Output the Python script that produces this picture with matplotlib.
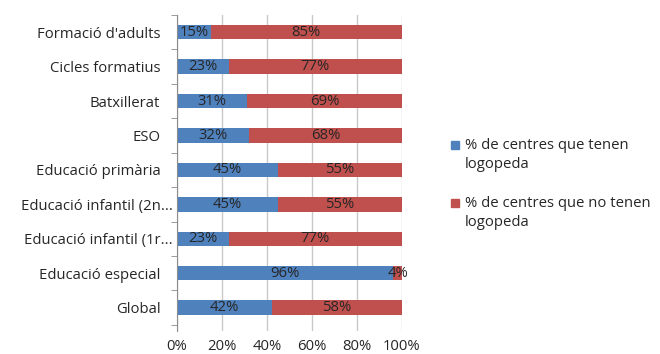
import matplotlib.pyplot as plt
from matplotlib.patches import Rectangle
import numpy as np

categories = [
    "Global",
    "Educació especial",
    "Educació infantil (1r...",
    "Educació infantil (2n...",
    "Educació primària",
    "ESO",
    "Batxillerat",
    "Cicles formatius",
    "Formació d'adults",
]
with_speech = [42, 96, 23, 45, 45, 32, 31, 23, 15]
without_speech = [58, 4, 77, 55, 55, 68, 69, 77, 85]
series_names = [
    ["% de centres que tenen", "logopeda"],
    ["% de centres que no tenen", "logopeda"],
]
xticks = [0, 20, 40, 60, 80, 100]

plt.rcParams["font.family"] = ["Open Sans", "DejaVu Sans"]
FS = 10.7
TXT = "#262626"

W, H = 660, 354
fig = plt.figure(figsize=(W / 100, H / 100), dpi=100)
ax = fig.add_axes([177 / W, 1 - 331 / H, 225 / W, 316 / H])

y = np.arange(len(categories))
blue, red = "#4F81BD", "#C0504D"
h = 0.42
ax.barh(y, with_speech, height=h, color=blue, zorder=2)
ax.barh(y, without_speech, left=with_speech, height=h, color=red, zorder=2)

# value labels centred in each segment
for yi, a, b in zip(y, with_speech, without_speech):
    ax.text(a / 2, yi, f"{a}%", ha="center", va="center", fontsize=FS,
            color=TXT, zorder=3)
    ax.text(a + b / 2, yi, f"{b}%", ha="center", va="center", fontsize=FS,
            color=TXT, zorder=3)

ax.set_xlim(0, 100)
ax.set_ylim(-0.68, len(categories) - 0.5)
ax.set_xticks(xticks)
ax.set_xticklabels([f"{t}%" for t in xticks], fontsize=FS, color=TXT)
ax.set_yticks(y)
ax.set_yticklabels(categories, fontsize=FS, color=TXT)
ax.set_yticks(np.arange(-0.5, len(categories)), minor=True)
ax.tick_params(axis="y", which="major", length=0)
ax.tick_params(axis="y", which="minor", length=4, color="#8C8C8C")
ax.tick_params(axis="x", length=0, pad=6)
for tick, name in zip(ax.yaxis.get_major_ticks(), categories):
    tick.set_pad(3 if name.endswith("...") else 12)
ax.xaxis.grid(True, color="#C8C8C8", linewidth=1, zorder=0)

for s in ["top", "right", "bottom"]:
    ax.spines[s].set_visible(False)
ax.spines["left"].set_color("#8C8C8C")

# legend: square key beside two-line label
for color, lines, sq_top, base in [
    (blue, series_names[0], 141, 149),
    (red, series_names[1], 199, 207),
]:
    fig.patches.append(Rectangle((451 / W, 1 - (sq_top + 8) / H), 8 / W, 8 / H,
                                 transform=fig.transFigure, color=color))
    for i, line in enumerate(lines):
        fig.text(465 / W, 1 - (base + 19 * i) / H, line, fontsize=FS,
                 color=TXT, va="baseline", ha="left")

fig.savefig("out.png", dpi=100)
